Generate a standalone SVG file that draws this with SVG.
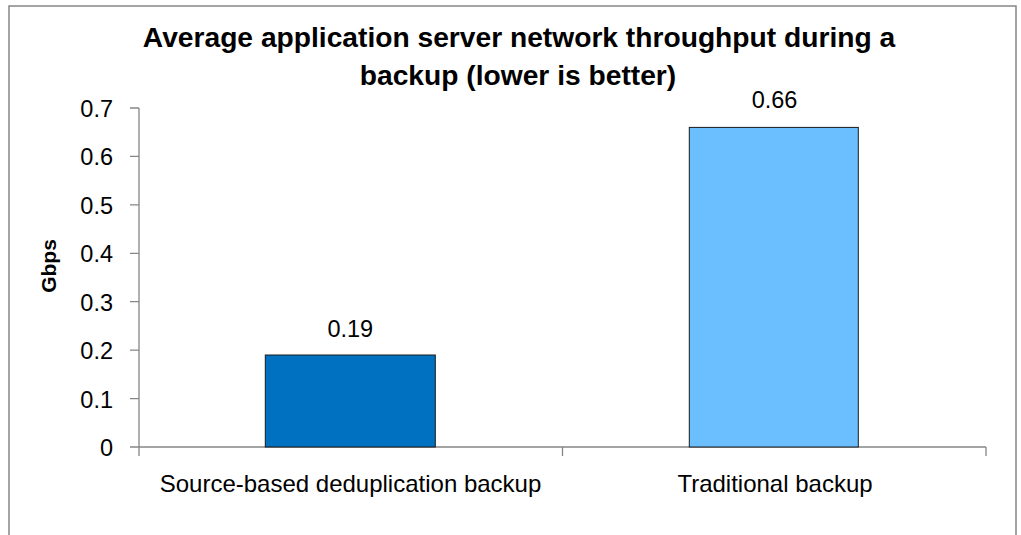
<svg xmlns="http://www.w3.org/2000/svg" width="1021" height="535" viewBox="0 0 1021 535">
  <style>
    .frame { fill: #ffffff; stroke: #868686; stroke-width: 1.5; }
    .axis { stroke: #868686; stroke-width: 1.3; fill: none; }
    .bar { stroke: #1a1a1a; stroke-width: 1; }
    .title { font-family: "Liberation Sans", Arial, sans-serif; font-weight: bold; font-size: 28.2px; fill: #000; text-anchor: middle; }
    .ylab { font-family: "Liberation Sans", Arial, sans-serif; font-weight: bold; font-size: 21px; fill: #000; text-anchor: middle; }
    .tick { font-family: "Liberation Sans", Arial, sans-serif; font-size: 23.5px; fill: #000; text-anchor: end; }
    .val { font-family: "Liberation Sans", Arial, sans-serif; font-size: 23.5px; fill: #000; text-anchor: middle; }
    .cat { font-family: "Liberation Sans", Arial, sans-serif; font-size: 24px; fill: #000; text-anchor: middle; }
  </style>

  <!-- chart area -->
  <rect class="frame" x="9" y="6" width="1007" height="540"/>

  <!-- title -->
  <text class="title" x="519" y="47">Average application server network throughput during a</text>
  <text class="title" x="518" y="85">backup (lower is better)</text>

  <!-- y axis title -->
  <text class="ylab" transform="translate(56,266) rotate(-90)">Gbps</text>

  <!-- axes and tick marks -->
  <g id="axes">
    <path class="axis" d="M139,108 V456 M130,447 H986 M562.5,447 V456 M986,447 V456"/>
    <path class="axis" d="M130,108 H139 M130,156.4 H139 M130,204.9 H139 M130,253.3 H139 M130,301.7 H139 M130,350.1 H139 M130,398.6 H139"/>
  </g>

  <!-- value scale -->
  <g id="scale">
    <text class="tick" x="113" y="117">0.7</text>
    <text class="tick" x="113" y="165.4">0.6</text>
    <text class="tick" x="113" y="213.9">0.5</text>
    <text class="tick" x="113" y="262.3">0.4</text>
    <text class="tick" x="113" y="310.7">0.3</text>
    <text class="tick" x="113" y="359.1">0.2</text>
    <text class="tick" x="113" y="407.6">0.1</text>
    <text class="tick" x="113" y="456">0</text>
  </g>

  <!-- bars -->
  <g id="bar-source-dedup">
    <rect class="bar" x="265.3" y="355" width="170" height="92" fill="#0070c0"/>
    <text class="val" x="350.3" y="336.5">0.19</text>
    <text class="cat" x="350.5" y="492">Source-based deduplication backup</text>
  </g>
  <g id="bar-traditional">
    <rect class="bar" x="689.3" y="127.4" width="169" height="319.6" fill="#6bbfff"/>
    <text class="val" x="774.5" y="108">0.66</text>
    <text class="cat" x="775" y="492">Traditional backup</text>
  </g>
</svg>
